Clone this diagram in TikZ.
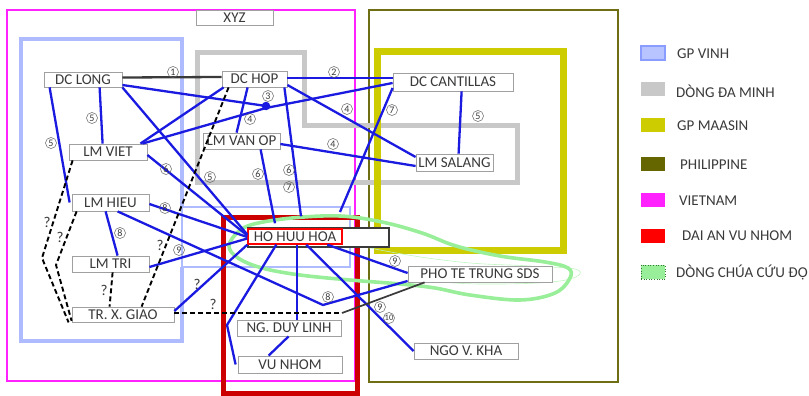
\documentclass[tikz,border=0pt]{standalone}
\usepackage{fontspec}
\setmainfont{Carlito}
\definecolor{eblue}{HTML}{1A1AE0}
\definecolor{boxgray}{HTML}{A0A0A0}
\definecolor{txt}{HTML}{3A3A3A}
\definecolor{regblue}{HTML}{AEBCFF}
\definecolor{reggray}{HTML}{C8C8C8}
\definecolor{regyellow}{HTML}{CCCC00}
\definecolor{regolive}{HTML}{6E6E14}
\definecolor{regmag}{HTML}{FF22FF}
\definecolor{regred}{HTML}{CC0000}
\definecolor{reggreen}{HTML}{99EE99}
\definecolor{legblue}{HTML}{B8C4FF}
\definecolor{legblueb}{HTML}{8A9CFF}
\definecolor{legolive}{HTML}{666600}
\definecolor{legred}{HTML}{FF0000}
\definecolor{leggreenb}{HTML}{337733}
\begin{document}
\begin{tikzpicture}[x=1pt,y=-1pt,
  nbox/.style={draw=boxgray, fill=white, line width=0.8pt, inner sep=0pt,
    font=\fontsize{15}{17}\selectfont, text=txt},
  bl/.style={draw=eblue, line width=2.3pt},
  blk/.style={draw=txt, line width=2.3pt},
  dsh/.style={draw=black, line width=1.9pt, dash pattern=on 5pt off 3pt},
  num/.style={circle, draw=txt!80, line width=0.5pt, inner sep=0pt, minimum size=11pt,
    font=\fontsize{10}{10}\selectfont, text=txt},
  qm/.style={inner sep=0pt, font=\fontsize{15}{17}\selectfont, text=txt},
  swatch/.style={minimum width=24pt, minimum height=14pt, inner sep=0pt},
  legtxt/.style={anchor=west, inner sep=0pt, font=\fontsize{15}{17}\selectfont, text=txt},
]
\useasboundingbox (0,0) rectangle (809,396);
\fill[white] (0,0) rectangle (809,396);

% regions
\draw[regmag, line width=2pt] (7,10) rectangle (355,381);
\draw[regolive, line width=2pt] (369,10) rectangle (618,382);
\node[draw=boxgray, line width=0.8pt, fill=white, minimum width=77pt, minimum height=15pt, inner sep=0pt,
  font=\fontsize{15}{17}\selectfont, text=txt] (xyz) at (234.5,17.5) {XYZ};
\draw[regblue, line width=4.5pt] (182,207) -- (182,39) -- (21,39) -- (21,341) -- (182,341) -- (182,267);
\draw[regblue, line width=1.6pt] (182,207) rectangle (350,267);
\draw[reggray, line width=5pt] (197,53) -- (304,53) -- (304,125) -- (517,125) -- (517,182) -- (197,182) -- cycle;
\draw[regyellow, line width=7pt] (377,52) rectangle (563,250);
\draw[regred, line width=5pt] (223,217) rectangle (357,393);
\draw[reggreen!60, line width=0.6pt] plot[smooth, tension=0.7] coordinates
  {(300,232) (380,250) (460,262) (530,266) (578,270) (560,281) (480,284) (420,280)};
\draw[reggreen, line width=3.6pt] plot[smooth cycle, tension=0.6] coordinates
  {(229,246) (238,232) (254,224) (292,218) (340,216) (382,222) (422,233) (456,246) (500,256)
   (545,262) (568,268) (570,278) (555,293) (520,300) (470,295) (435,288) (400,284)
   (350,280) (300,275) (262,268) (238,258)};

% nodes
\node[nbox, minimum width=78pt, minimum height=15pt] (dclong) at (83,79.5) {DC LONG};
\node[nbox, minimum width=65pt, minimum height=16pt] (dchop) at (254.5,79) {DC HOP};
\node[nbox, minimum width=120pt, minimum height=18pt] (dccant) at (453,82) {DC CANTILLAS};
\node[nbox, minimum width=78pt, minimum height=16pt] (lmviet) at (108,152) {LM VIET};
\node[nbox, minimum width=77pt, minimum height=16pt] (lmvanop) at (241.5,141) {LM VAN OP};
\node[nbox, minimum width=77pt, minimum height=17pt] (lmsalang) at (454.5,162.5) {LM SALANG};
\node[nbox, minimum width=77pt, minimum height=17pt] (lmhieu) at (110.5,202.5) {LM HIEU};
\node[nbox, minimum width=77pt, minimum height=16pt] (lmtri) at (110.5,264) {LM TRI};
\node[nbox, minimum width=102pt, minimum height=15pt] (trxgiao) at (123,314.5) {TR. X. GIAO};
\node[draw=txt, fill=white, line width=1.4pt, minimum width=141pt, minimum height=19pt, inner sep=0pt] (hoaframe) at (318.5,237.5) {};
\node[nbox, draw=legred, line width=1.4pt, minimum width=94pt, minimum height=15pt] (hoa) at (295,236.5) {HO HUU HOA};
\node[nbox, minimum width=104pt, minimum height=16pt] (nglinh) at (289,328) {NG. DUY LINH};
\node[nbox, minimum width=104pt, minimum height=17pt] (vunhom) at (290,364.5) {VU NHOM};
\node[nbox, minimum width=144pt, minimum height=16pt] (photrung) at (480,274) {PHO TE TRUNG SDS};
\node[nbox, minimum width=104pt, minimum height=16pt] (ngokha) at (466,351) {NGO V. KHA};
\node[circle, fill=eblue, inner sep=0pt, minimum size=8.5pt] (dot) at (266,106) {};

% connectors
\draw[blk] ([yshift=2pt]dclong.east) -- ([yshift=2pt]dchop.west);
\draw[bl] ([yshift=1pt]dchop.east) -- ([yshift=4pt]dccant.west);
\draw[bl] ([yshift=-5.5pt]dclong.east) -- (dot.center);
\draw[bl] ([xshift=-5pt]lmviet.north east) -- ([yshift=-2pt]dot.center) -- ([yshift=-1pt]dccant.west);
\draw[bl] ([xshift=2pt]dchop.south west) -- ([xshift=-7pt]lmviet.north east);
\draw[bl] ([xshift=26pt]dchop.south west) -- ([xshift=34pt]lmvanop.north west);
\draw[bl] ([yshift=-6pt]dchop.east) -- ([yshift=5.5pt]lmsalang.west);
\draw[bl] ([yshift=-3pt]lmvanop.east) -- ([yshift=-3.5pt]lmsalang.west);
\draw[bl] ([xshift=-3pt]dchop.south east) -- ([xshift=6pt,yshift=12pt]hoa.north);
\draw[bl] ([xshift=58pt]lmvanop.south west) -- ([xshift=-20pt,yshift=5pt]hoa.north);
\coordinate (cantend) at (340,212);
\draw[bl] ([yshift=-6pt]dccant.west) -- (cantend);
\draw[bl] ([xshift=69pt]dccant.south west) -- ([xshift=43pt]lmsalang.north west);
\draw[bl] ([xshift=56pt]dclong.south west) -- ([xshift=34pt]lmviet.north west);
\draw[bl] ([xshift=6pt]dclong.south west) -- ([xshift=-2pt]lmhieu.west);
\draw[bl] (dclong.south east) -- ([yshift=2pt]hoa.west);
\draw[bl] ([yshift=-3pt]lmviet.east) -- ([yshift=1pt]hoa.west);
\draw[bl] ([yshift=-1.5pt]lmhieu.east) -- ([yshift=-0.5pt]hoa.west);
\draw[bl] ([xshift=34pt]lmhieu.south west) -- ([xshift=46pt]lmtri.north west);
\coordinate (bend8) at (323,305);
\draw[bl] ([xshift=46pt]lmhieu.south west) -- (bend8) -- ([yshift=-7pt]photrung.west);
\draw[bl] ([yshift=-3pt]lmtri.east) -- ([yshift=-2pt]hoa.west);
\draw[bl] ([yshift=3.5pt]trxgiao.east) -- (hoa.south west);
\coordinate (bendv) at (227,325);
\draw[bl] ([xshift=29pt]hoa.south west) -- (bendv) -- ([xshift=-2pt]vunhom.west);
\draw[bl] ([xshift=2pt]hoa.south) -- ([xshift=8pt]nglinh.north);
\draw[bl] ([xshift=52pt]nglinh.south west) -- ([xshift=31pt]vunhom.north west);
\draw[bl] ([xshift=59pt]hoa.south west) -- (ngokha.west);
\draw[bl] ([xshift=80pt]hoa.south west) -- ([yshift=1pt]photrung.west);
\coordinate (dashend) at (342,313);
\draw[dsh] ([yshift=1.5pt]trxgiao.east) -- (dashend);
\draw[blk, line width=1.7pt] (dashend) -- ([xshift=17pt]photrung.south west);
\draw[dsh] ([xshift=7pt]dchop.south west) -- ([xshift=70pt]trxgiao.north west);
\draw[dsh] ([xshift=41pt]lmtri.south west) -- ([xshift=38pt]trxgiao.north west);
\coordinate (qa) at (42,258);
\coordinate (qb) at (56,265);
\draw[dsh] ([xshift=4pt]lmviet.south west) -- (qa) -- ([xshift=-3pt]trxgiao.south west);
\draw[dsh] ([xshift=5pt]lmhieu.south west) -- (qb) -- ([yshift=1.5pt]trxgiao.south west);

% circled numbers
\node[num] (n1) at (173,72) {1};
\node[num] (n2) at (334,72) {2};
\node[num] (n3) at (268,96) {3};
\node[num] (n4a) at (250,119) {4};
\node[num] (n4b) at (347,109) {4};
\node[num] (n4c) at (333,144) {4};
\node[num] (n5a) at (478,116) {5};
\node[num] (n7a) at (392,110) {7};
\node[num] (n5b) at (92,118) {5};
\node[num] (n5c) at (51,143) {5};
\node[num] (n5d) at (210,177) {5};
\node[num] (n6a) at (166,169) {6};
\node[num] (n6b) at (258,174) {6};
\node[num] (n6c) at (289,170) {6};
\node[num] (n7b) at (289,187) {7};
\node[num] (n8a) at (165,208) {8};
\node[num] (n8b) at (120,233) {8};
\node[num] (n9a) at (179,250) {9};
\node[num] (n8c) at (328,297) {8};
\node[num] (n9b) at (395,261) {9};
\node[num] (n9c) at (380,307) {9};
\node[num, font=\fontsize{8.5}{8.5}\selectfont] (n10) at (389,318) {10};

% question marks
\node[qm] (q1) at (197,284) {?};
\node[qm] (q2) at (213,304) {?};
\node[qm] (q3) at (160,245) {?};
\node[qm] (q4) at (104,290) {?};
\node[qm] (q5) at (47,222) {?};
\node[qm] (q6) at (60,237) {?};

% legend
\node[swatch, fill=legblue, draw=legblueb, line width=1.2pt] (s1) at (653,53) {};
\node[legtxt] (t1) at (677,54) {GP VINH};
\node[swatch, fill=reggray] (s2) at (653,89) {};
\node[legtxt] (t2) at (676,91) {DÒNG ĐA MINH};
\node[swatch, fill=regyellow] (s3) at (653,124.5) {};
\node[legtxt] (t3) at (677,126) {GP MAASIN};
\node[swatch, fill=legolive] (s4) at (653,163.5) {};
\node[legtxt] (t4) at (680,165) {PHILIPPINE};
\node[swatch, fill=regmag] (s5) at (653,200) {};
\node[legtxt] (t5) at (679,201) {VIETNAM};
\node[swatch, fill=legred] (s6) at (653,235.5) {};
\node[legtxt] (t6) at (682,236) {DAI AN VU NHOM};
\node[swatch, fill=reggreen, draw=leggreenb, dotted, line width=0.6pt] (s7) at (653,272) {};
\node[legtxt] (t7) at (676,272) {DÒNG CHÚA CỨU ĐỘ};
\end{tikzpicture}
\end{document}
